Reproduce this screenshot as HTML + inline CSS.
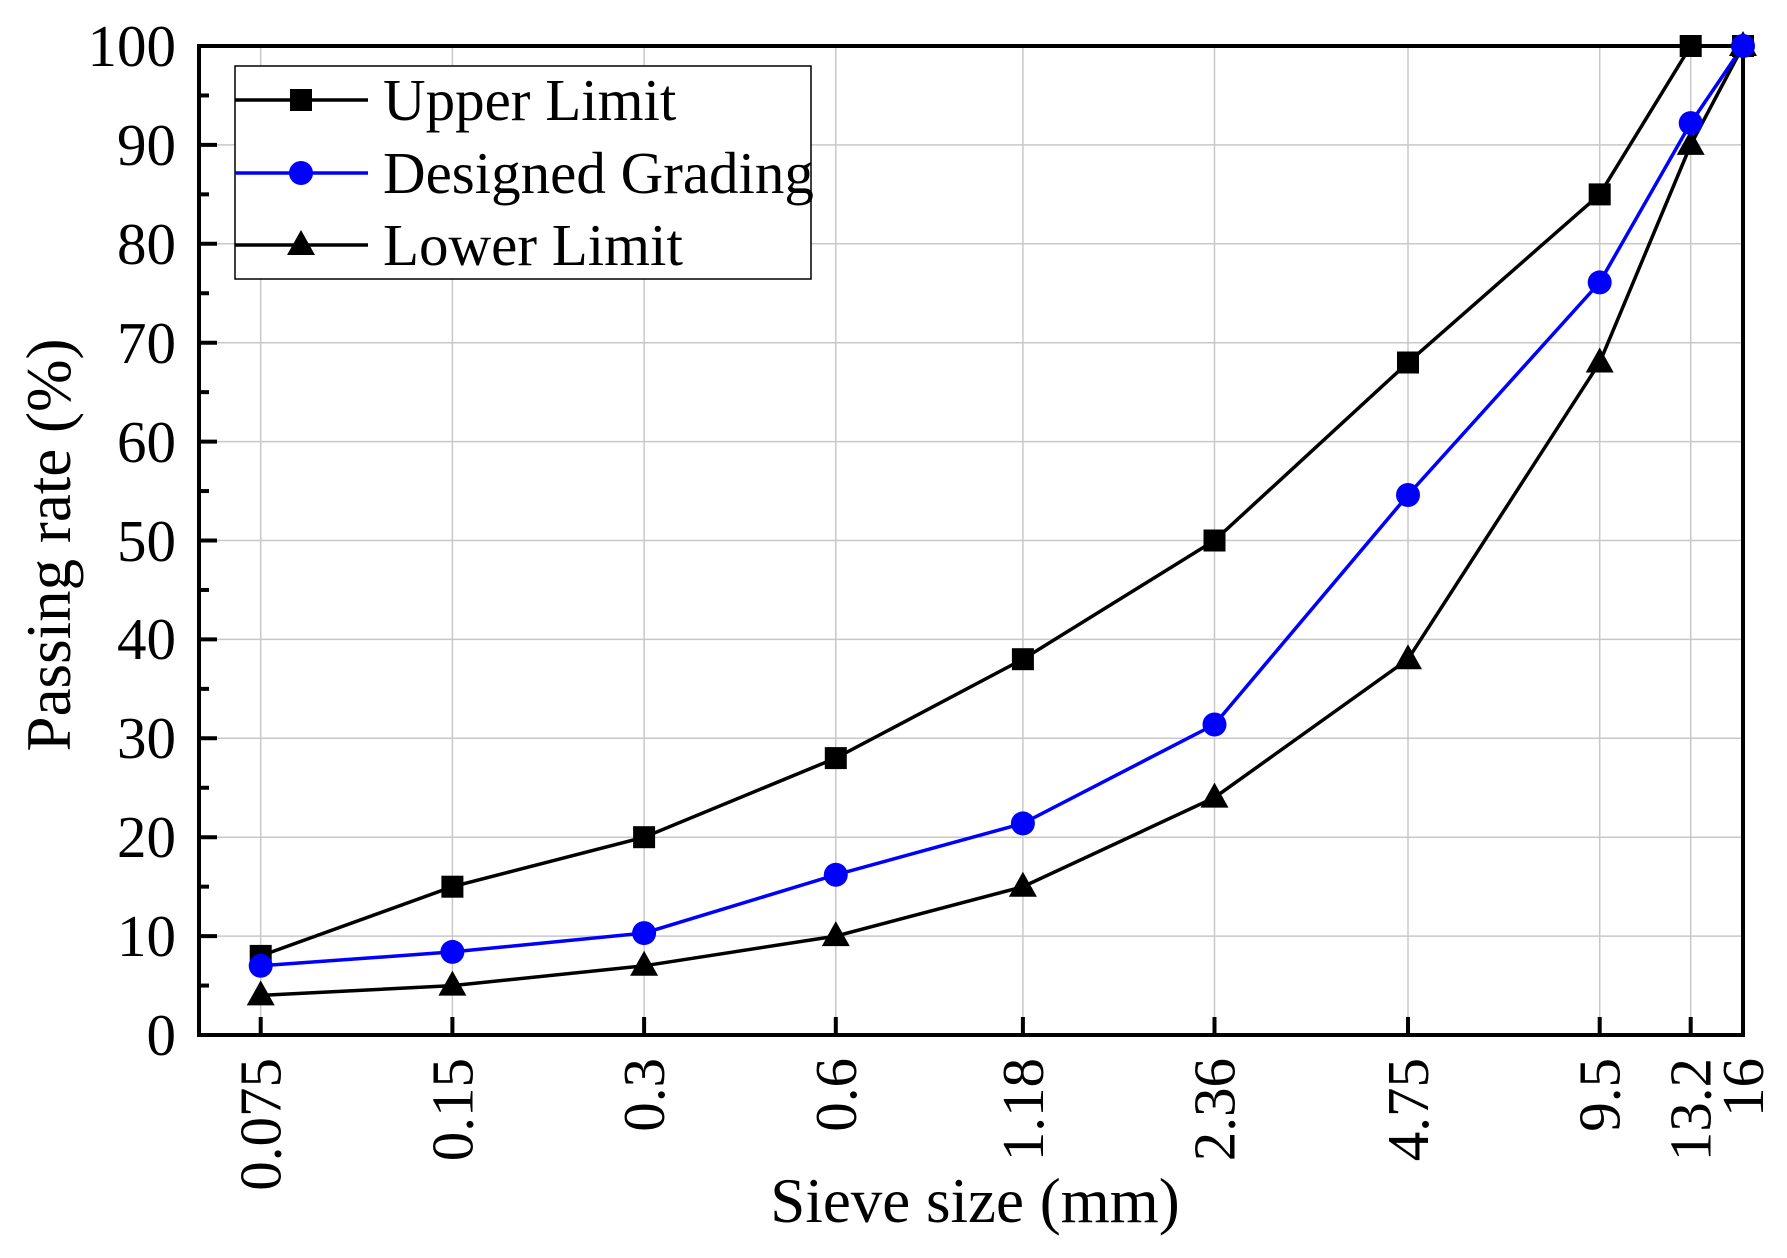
<!DOCTYPE html>
<html><head><meta charset="utf-8"><style>html,body{margin:0;padding:0;background:#fff}</style></head>
<body>
<svg width="1787" height="1253" viewBox="0 0 1787 1253" xmlns="http://www.w3.org/2000/svg" font-family="Liberation Serif, serif">
<g stroke="#c8c8c8" stroke-width="1.5">
<line x1="199" x2="1743" y1="936.1" y2="936.1"/><line x1="199" x2="1743" y1="837.2" y2="837.2"/><line x1="199" x2="1743" y1="738.3" y2="738.3"/><line x1="199" x2="1743" y1="639.4" y2="639.4"/><line x1="199" x2="1743" y1="540.5" y2="540.5"/><line x1="199" x2="1743" y1="441.6" y2="441.6"/><line x1="199" x2="1743" y1="342.7" y2="342.7"/><line x1="199" x2="1743" y1="243.8" y2="243.8"/><line x1="199" x2="1743" y1="144.9" y2="144.9"/>
<line x1="260.7" x2="260.7" y1="46" y2="1035"/><line x1="452.4" x2="452.4" y1="46" y2="1035"/><line x1="644.1" x2="644.1" y1="46" y2="1035"/><line x1="835.8" x2="835.8" y1="46" y2="1035"/><line x1="1022.9" x2="1022.9" y1="46" y2="1035"/><line x1="1214.5" x2="1214.5" y1="46" y2="1035"/><line x1="1408" x2="1408" y1="46" y2="1035"/><line x1="1599.7" x2="1599.7" y1="46" y2="1035"/><line x1="1690.7" x2="1690.7" y1="46" y2="1035"/>
</g>
<g stroke="#000" stroke-width="4">
<line x1="199" x2="217" y1="1035" y2="1035"/><line x1="199" x2="209" y1="985.55" y2="985.55"/>
<line x1="199" x2="217" y1="936.1" y2="936.1"/><line x1="199" x2="209" y1="886.65" y2="886.65"/>
<line x1="199" x2="217" y1="837.2" y2="837.2"/><line x1="199" x2="209" y1="787.75" y2="787.75"/>
<line x1="199" x2="217" y1="738.3" y2="738.3"/><line x1="199" x2="209" y1="688.85" y2="688.85"/>
<line x1="199" x2="217" y1="639.4" y2="639.4"/><line x1="199" x2="209" y1="589.95" y2="589.95"/>
<line x1="199" x2="217" y1="540.5" y2="540.5"/><line x1="199" x2="209" y1="491.05" y2="491.05"/>
<line x1="199" x2="217" y1="441.6" y2="441.6"/><line x1="199" x2="209" y1="392.15" y2="392.15"/>
<line x1="199" x2="217" y1="342.7" y2="342.7"/><line x1="199" x2="209" y1="293.25" y2="293.25"/>
<line x1="199" x2="217" y1="243.8" y2="243.8"/><line x1="199" x2="209" y1="194.35" y2="194.35"/>
<line x1="199" x2="217" y1="144.9" y2="144.9"/><line x1="199" x2="209" y1="95.45" y2="95.45"/>
<line x1="260.7" x2="260.7" y1="1035" y2="1017"/><line x1="452.4" x2="452.4" y1="1035" y2="1017"/><line x1="644.1" x2="644.1" y1="1035" y2="1017"/><line x1="835.8" x2="835.8" y1="1035" y2="1017"/><line x1="1022.9" x2="1022.9" y1="1035" y2="1017"/><line x1="1214.5" x2="1214.5" y1="1035" y2="1017"/><line x1="1408" x2="1408" y1="1035" y2="1017"/><line x1="1599.7" x2="1599.7" y1="1035" y2="1017"/><line x1="1690.7" x2="1690.7" y1="1035" y2="1017"/>
</g>
<g font-size="59" text-anchor="end">
<text x="176" y="1055">0</text><text x="176" y="956">10</text><text x="176" y="857">20</text><text x="176" y="758">30</text><text x="176" y="659">40</text><text x="176" y="561">50</text><text x="176" y="462">60</text><text x="176" y="363">70</text><text x="176" y="264">80</text><text x="176" y="165">90</text><text x="176" y="66">100</text>
<text transform="translate(280.7,1058) rotate(-90)">0.075</text>
<text transform="translate(472.4,1058) rotate(-90)">0.15</text>
<text transform="translate(664.1,1058) rotate(-90)">0.3</text>
<text transform="translate(855.8,1058) rotate(-90)">0.6</text>
<text transform="translate(1042.9,1058) rotate(-90)">1.18</text>
<text transform="translate(1234.5,1058) rotate(-90)">2.36</text>
<text transform="translate(1428,1058) rotate(-90)">4.75</text>
<text transform="translate(1619.7,1058) rotate(-90)">9.5</text>
<text transform="translate(1710.7,1058) rotate(-90)">13.2</text>
<text transform="translate(1763,1058) rotate(-90)">16</text>
</g>
<rect x="199" y="46" width="1544" height="989" fill="none" stroke="#000" stroke-width="4"/>
<polyline fill="none" stroke="#000" stroke-width="3.5" points="260.7,955.9 452.4,886.7 644.1,837.2 835.8,758.1 1022.9,659.2 1214.5,540.5 1408,362.5 1599.7,194.4 1690.7,46 1743,46"/>
<polyline fill="none" stroke="#000" stroke-width="3.5" points="260.7,995.4 452.4,985.6 644.1,965.8 835.8,936.1 1022.9,886.7 1214.5,797.6 1408,659.2 1599.7,362.5 1690.7,144.9 1743,46"/>
<polyline fill="none" stroke="#0000ff" stroke-width="3.5" points="260.7,965.8 452.4,951.9 644.1,933.1 835.8,874.8 1022.9,823.4 1214.5,724.5 1408,495 1599.7,282.4 1690.7,123.1 1743,46"/>
<g fill="#000">
<rect x="249.7" y="944.9" width="22" height="22"/><rect x="441.4" y="875.7" width="22" height="22"/><rect x="633.1" y="826.2" width="22" height="22"/><rect x="824.8" y="747.1" width="22" height="22"/><rect x="1011.9" y="648.2" width="22" height="22"/><rect x="1203.5" y="529.5" width="22" height="22"/><rect x="1397" y="351.5" width="22" height="22"/><rect x="1588.7" y="183.4" width="22" height="22"/><rect x="1679.7" y="35" width="22" height="22"/><rect x="1732" y="35" width="22" height="22"/>
<polygon points="260.7,980.4 246.7,1005.4 274.7,1005.4"/><polygon points="452.4,970.6 438.4,995.6 466.4,995.6"/><polygon points="644.1,950.8 630.1,975.8 658.1,975.8"/><polygon points="835.8,921.1 821.8,946.1 849.8,946.1"/><polygon points="1022.9,871.7 1008.9,896.7 1036.9,896.7"/><polygon points="1214.5,782.6 1200.5,807.6 1228.5,807.6"/><polygon points="1408,644.2 1394,669.2 1422,669.2"/><polygon points="1599.7,347.5 1585.7,372.5 1613.7,372.5"/><polygon points="1690.7,129.9 1676.7,154.9 1704.7,154.9"/><polygon points="1743,31 1729,56 1757,56"/>
</g>
<g fill="#0000ff">
<circle cx="260.7" cy="965.8" r="12"/><circle cx="452.4" cy="951.9" r="12"/><circle cx="644.1" cy="933.1" r="12"/><circle cx="835.8" cy="874.8" r="12"/><circle cx="1022.9" cy="823.4" r="12"/><circle cx="1214.5" cy="724.5" r="12"/><circle cx="1408" cy="495" r="12"/><circle cx="1599.7" cy="282.4" r="12"/><circle cx="1690.7" cy="123.1" r="12"/><circle cx="1743" cy="46" r="12"/>
</g>
<rect x="235" y="66" width="576" height="213" fill="#fff" stroke="#000" stroke-width="1.5"/>
<line x1="235" x2="368" y1="100" y2="100" stroke="#000" stroke-width="3.5"/><rect x="290" y="89" width="22" height="22" fill="#000"/>
<line x1="235" x2="368" y1="173" y2="173" stroke="#0000ff" stroke-width="3.5"/><circle cx="301" cy="173" r="12" fill="#0000ff"/>
<line x1="235" x2="368" y1="245" y2="245" stroke="#000" stroke-width="3.5"/><polygon points="301,230 287,255 315,255" fill="#000"/>
<g font-size="59">
<text x="383" y="120">Upper Limit</text>
<text x="383" y="193">Designed Grading</text>
<text x="383" y="265">Lower Limit</text>
</g>
<g font-size="63">
<text x="975" y="1222" text-anchor="middle">Sieve size (mm)</text>
<text transform="translate(70,545) rotate(-90)" text-anchor="middle">Passing rate (%)</text>
</g>
</svg>
</body></html>
